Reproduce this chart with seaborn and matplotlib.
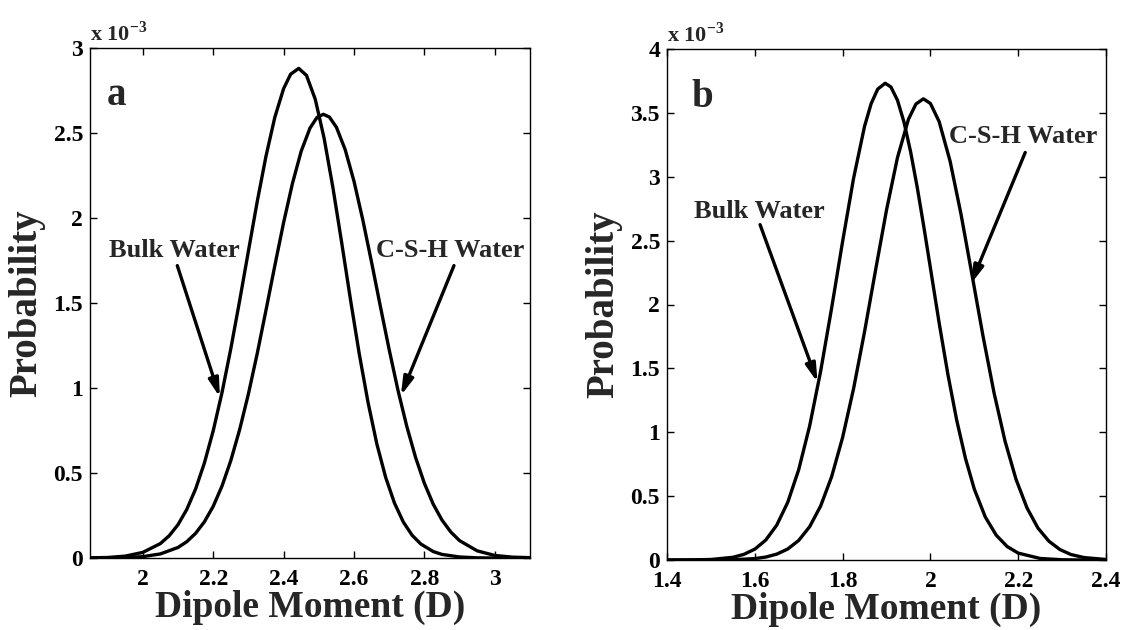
import numpy as np
import pandas as pd
import matplotlib
matplotlib.use("Agg")
import matplotlib.pyplot as plt
import seaborn as sns

# ---- data (probability in units of 1e-3) ----
# panel a
bulk_a_x = [1.85, 1.90, 1.95, 2.00, 2.05, 2.075, 2.10, 2.125, 2.15, 2.175, 2.20,
            2.225, 2.25, 2.275, 2.30, 2.325, 2.35, 2.375, 2.40, 2.42, 2.443, 2.465,
            2.49, 2.515, 2.54, 2.565, 2.59, 2.615, 2.64, 2.665, 2.69, 2.715, 2.74,
            2.765, 2.79, 2.825, 2.85, 2.90, 2.95, 3.00, 3.10]
bulk_a_p = [0.001, 0.003, 0.011, 0.033, 0.085, 0.131, 0.196, 0.286, 0.406, 0.559, 0.748,
            0.973, 1.231, 1.512, 1.805, 2.096, 2.364, 2.592, 2.761, 2.846, 2.88, 2.839,
            2.698, 2.470, 2.180, 1.855, 1.520, 1.200, 0.914, 0.670, 0.474, 0.323, 0.212,
            0.134, 0.082, 0.038, 0.021, 0.006, 0.001, 0.0, 0.0]

csh_a_x = [1.85, 1.90, 1.95, 2.00, 2.05, 2.10, 2.125, 2.15, 2.175, 2.20, 2.225,
           2.25, 2.275, 2.30, 2.325, 2.35, 2.375, 2.40, 2.425, 2.45, 2.475, 2.495,
           2.513, 2.53, 2.55, 2.575, 2.60, 2.625, 2.65, 2.675, 2.70, 2.725, 2.75,
           2.775, 2.80, 2.825, 2.85, 2.875, 2.90, 2.95, 3.00, 3.05, 3.10]
csh_a_p = [0.0, 0.001, 0.003, 0.008, 0.024, 0.062, 0.096, 0.145, 0.213, 0.304, 0.423,
           0.573, 0.754, 0.965, 1.202, 1.458, 1.719, 1.973, 2.202, 2.393, 2.529, 2.592,
           2.61, 2.594, 2.534, 2.402, 2.216, 1.989, 1.739, 1.479, 1.225, 0.986, 0.774,
           0.591, 0.439, 0.317, 0.223, 0.153, 0.102, 0.042, 0.015, 0.005, 0.002]

# panel b
bulk_b_x = [1.40, 1.45, 1.50, 1.55, 1.575, 1.60, 1.625, 1.65, 1.675, 1.70, 1.725,
            1.75, 1.775, 1.80, 1.825, 1.85, 1.865, 1.88, 1.897, 1.91, 1.925, 1.94,
            1.955, 1.97, 1.985, 2.00, 2.02, 2.04, 2.06, 2.08, 2.10, 2.125, 2.15,
            2.175, 2.20, 2.25, 2.30, 2.35, 2.40]
bulk_b_p = [0.0, 0.001, 0.004, 0.021, 0.044, 0.085, 0.156, 0.273, 0.451, 0.707, 1.050,
            1.478, 1.972, 2.493, 2.988, 3.395, 3.572, 3.686, 3.732, 3.703, 3.599, 3.426,
            3.194, 2.917, 2.609, 2.286, 1.854, 1.450, 1.093, 0.794, 0.555, 0.337, 0.194,
            0.105, 0.054, 0.012, 0.002, 0.0, 0.0]

csh_b_x = [1.40, 1.50, 1.55, 1.60, 1.625, 1.65, 1.675, 1.70, 1.725, 1.75, 1.775,
           1.80, 1.825, 1.85, 1.875, 1.90, 1.925, 1.95, 1.967, 1.984, 2.00, 2.02,
           2.045, 2.07, 2.095, 2.12, 2.145, 2.17, 2.195, 2.22, 2.245, 2.27, 2.295,
           2.32, 2.35, 2.40]
csh_b_p = [0.0, 0.0, 0.002, 0.011, 0.023, 0.046, 0.086, 0.153, 0.261, 0.423, 0.652,
           0.959, 1.341, 1.787, 2.267, 2.739, 3.150, 3.450, 3.569, 3.61, 3.574, 3.431,
           3.120, 2.702, 2.228, 1.750, 1.308, 0.931, 0.632, 0.408, 0.250, 0.147, 0.082,
           0.043, 0.019, 0.004]

xticks_a = [2.0, 2.2, 2.4, 2.6, 2.8, 3.0]
xticks_b = [1.4, 1.6, 1.8, 2.0, 2.2, 2.4]
yticks_a = [0, 0.5, 1, 1.5, 2, 2.5, 3]
yticks_b = [0, 0.5, 1, 1.5, 2, 2.5, 3, 3.5, 4]

sns.set_theme(style="white")
plt.rcParams['font.family'] = ['Liberation Serif', 'DejaVu Serif']
plt.rcParams['font.weight'] = 'bold'
plt.rcParams['mathtext.fontset'] = 'custom'
plt.rcParams['mathtext.rm'] = 'Liberation Serif:bold'
plt.rcParams['mathtext.bf'] = 'Liberation Serif:bold'

fig = plt.figure(figsize=(11.22, 6.3), dpi=100)
ax1 = fig.add_axes([90/1122, 72/630, 440/1122, 510/630])
ax2 = fig.add_axes([667/1122, 70/630, 439/1122, 511/630])

def fmt(v):
    return ('%g' % v)

panels = [
    (ax1, bulk_a_x, bulk_a_p, csh_a_x, csh_a_p, (1.85, 3.1), (0, 3), xticks_a, yticks_a, 'a',
     (1.897, 2.72), ((1.905, 1.81), (2.098, 1.72), (2.219, 0.945)),
     ((2.662, 1.81), (2.884, 1.72), (2.733, 0.955))),
    (ax2, bulk_b_x, bulk_b_p, csh_b_x, csh_b_p, (1.4, 2.4), (0, 4), xticks_b, yticks_b, 'b',
     (1.455, 3.62), ((1.461, 2.73), (1.612, 2.625), (1.743, 1.39)),
     ((2.042, 3.315), (2.216, 3.19), (2.092, 2.16))),
]

for (ax, bx, bp, cx, cp, xl, yl, xt, yt, lab, labpos, bulk_ann, csh_ann) in panels:
    d1 = pd.DataFrame({'x': bx, 'p': bp})
    d2 = pd.DataFrame({'x': cx, 'p': cp})
    sns.lineplot(data=d1, x='x', y='p', ax=ax, color='black', lw=2.4, sort=False)
    sns.lineplot(data=d2, x='x', y='p', ax=ax, color='black', lw=2.4, sort=False)
    ax.set_xlim(*xl)
    ax.set_ylim(*yl)
    ax.set_xticks(xt)
    ax.set_yticks(yt)
    ax.set_xticklabels([fmt(v) for v in xt], fontsize=17, fontweight='bold')
    ax.set_yticklabels([fmt(v) for v in yt], fontsize=17, fontweight='bold')
    ax.tick_params(axis='x', pad=8)
    ax.tick_params(axis='y', pad=5)
    ax.tick_params(direction='in', length=5, width=1, top=True, right=True,
                   bottom=True, left=True, colors='black')
    for s in ax.spines.values():
        s.set_color('black')
        s.set_linewidth(1.0)
    ax.set_xlabel('Dipole Moment (D)', fontsize=27, fontweight='bold', labelpad=0)
    ax.set_ylabel('Probability', fontsize=28, fontweight='bold', labelpad=6)
    ax.text(0.0, 1.005, r'x 10$^{-3}$', transform=ax.transAxes, fontsize=16,
            fontweight='bold', ha='left', va='bottom')
    ax.text(labpos[0], labpos[1], lab, fontsize=28, fontweight='bold', ha='left', va='center')
    for ann, name in ((bulk_ann, 'Bulk Water'), (csh_ann, 'C-S-H Water')):
        (tx, ty), (sx, sy), (ex, ey) = ann
        ax.text(tx, ty, name, fontsize=19, fontweight='bold', ha='left', va='center')
        ax.annotate('', xy=(ex, ey), xytext=(sx, sy),
                    arrowprops=dict(arrowstyle='-|>,head_length=0.9,head_width=0.25',
                                    color='black', lw=2.4, shrinkA=0, shrinkB=0))
    ax.grid(False)

fig.savefig('out.png', dpi=100, facecolor='white')
